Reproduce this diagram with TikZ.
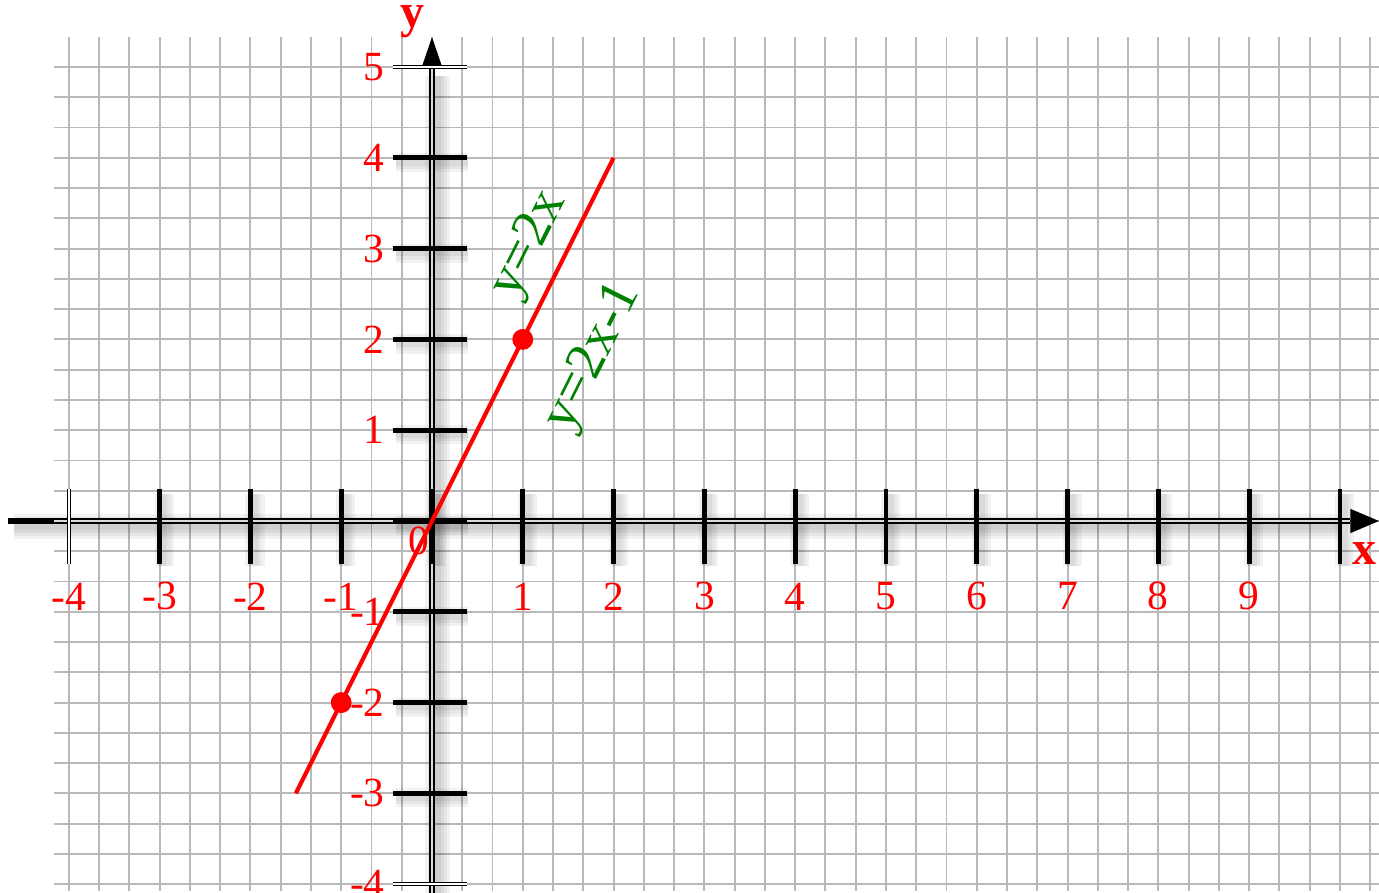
\documentclass[tikz,border=0pt]{standalone}
\usepackage{fontspec}
\setmainfont{Liberation Serif}
\usetikzlibrary{arrows.meta}

\begin{document}
\begin{tikzpicture}[x=1cm,y=1cm,
  gridline/.style={draw=gray!55,line width=0.6pt},
  axisline/.style={draw=black,line width=0.55pt,double=gray!30,double distance=0.6pt},
  tickmark/.style={draw=black,line width=1.5pt},
  edgetick/.style={draw=black,line width=0.45pt,double=white,double distance=0.5pt},
  fuzz/.style={draw=black,opacity=0.05,line width=#1},
  ticklabel/.style={text=red,font=\fontsize{13}{15}\selectfont,inner sep=1pt},
  eqlabel/.style={text=green!50!black,font=\fontsize{17}{19}\selectfont,rotate=63.4,inner sep=0pt},
  axislabel/.style={text=red,font=\bfseries\fontsize{15}{17}\selectfont,inner sep=0pt},
  dot/.style={circle,fill=red,inner sep=0pt,minimum size=0.23cm}]
\useasboundingbox (-4.758,-4.097) rectangle (10.43,5.738);
\foreach \i in {0,...,43}
  \draw[gridline] ({-4+\i/3},-4.07) -- ({-4+\i/3},5.33);
\foreach \j in {0,...,27}
  \draw[gridline] (-4.16,{-4+\j/3}) -- (10.43,{-4+\j/3});
\coordinate (xstart) at (-4.67,0);
\coordinate (xgrid) at (-4.16,0);
\coordinate (xbase) at (10.11,0);
\coordinate (xend) at (10.43,0);
\coordinate (ystart) at (0,-4.2);
\coordinate (ybase) at (0,5.01);
\coordinate (yend) at (0,5.33);
\foreach \w in {2pt,4pt,6pt,8pt}{
  \draw[fuzz=\w] (0.06,-4.2) -- (0.06,4.9);
  \draw[fuzz=\w] (-4.6,-0.06) -- (10.0,-0.06);
}
\foreach \x in {-3,...,10}{
  \foreach \w in {2pt,4pt,6pt}
    \draw[fuzz=\w] ({\x+0.05},0.3) -- ({\x+0.05},-0.5);
}
\foreach \y in {-3,...,4}{
  \foreach \w in {2pt,4pt,6pt}
    \draw[fuzz=\w] (-0.4,{\y-0.05}) -- (0.4,{\y-0.05});
}
\draw[line width=1.6pt] (xstart) -- (xgrid);
\draw[axisline] (xgrid) -- (xbase);
\draw[-{Triangle[length=9pt,width=7.5pt]},line width=0.5pt] (xbase) -- (xend);
\draw[axisline] (ystart) -- (ybase);
\draw[-{Triangle[length=9pt,width=6pt]},line width=0.5pt] (ybase) -- (yend);
\foreach \x in {-3,...,10}
  \draw[tickmark] (\x,0.35) -- (\x,-0.47);
\draw[edgetick] (-4,0.35) -- (-4,-0.47);
\foreach \y in {-3,...,4}
  \draw[tickmark] (-0.43,\y) -- (0.39,\y);
\draw[edgetick] (-0.43,5) -- (0.39,5);
\draw[edgetick] (-0.43,-4) -- (0.39,-4);
\foreach \x in {-4,...,-1,1,2,...,9}
  \node[ticklabel] (xl\x) at (\x,-0.83) {\x};
\foreach \y in {-4,...,-1,1,2,...,5}
  \node[ticklabel,anchor=east] (yl\y) at (-0.48,\y) {\y};
\node[ticklabel] (zero) at (-0.14,-0.22) {0};
\node[axislabel] (xname) at (10.27,-0.36) {x};
\node[axislabel] (yname) at (-0.22,5.5) {y};
\coordinate (lstart) at (-1.5,-3);
\coordinate (lend) at (2,4);
\draw[red,line width=1.3pt] (lstart) -- (lend);
\node[dot] (pa) at (1,2) {};
\node[dot] (pb) at (-1,-2) {};
\node[eqlabel] (eqa) at (1.08,3.04) {y=2x};
\node[eqlabel] (eqb) at (1.78,1.80) {y=2x-1};
\end{tikzpicture}
\end{document}
